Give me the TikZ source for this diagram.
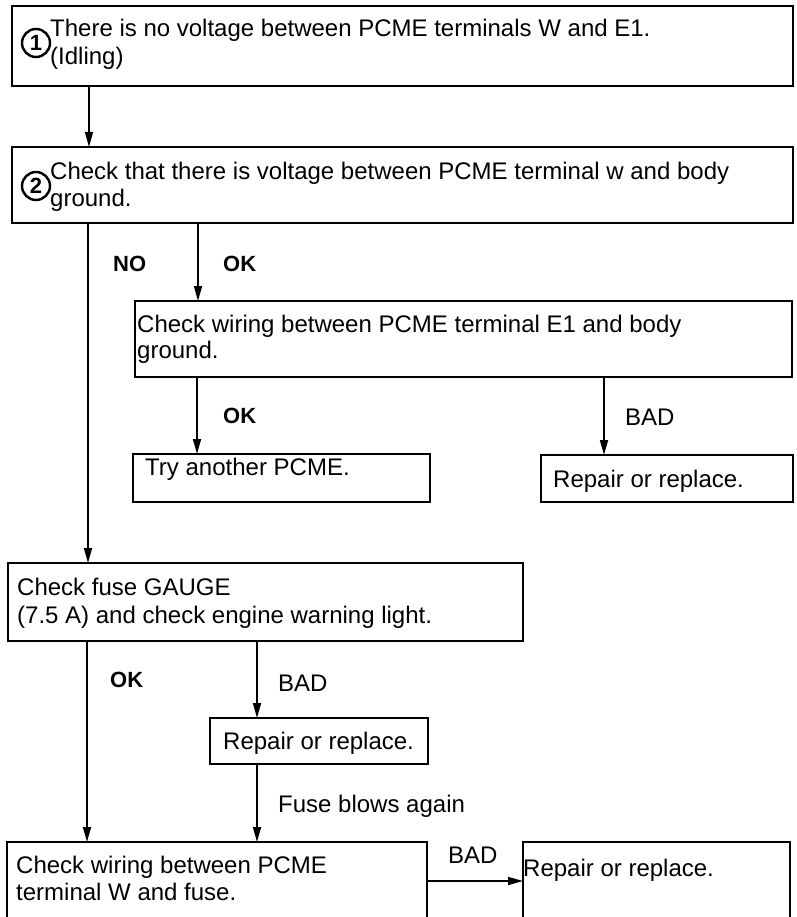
\documentclass[tikz,border=0pt]{standalone}
\usepackage{fontspec}
\setmainfont{Liberation Sans}
\usetikzlibrary{arrows.meta}
\begin{document}
\begin{tikzpicture}[x=1pt,y=-1pt,
  box/.style={draw, line width=2.5pt, inner sep=0pt, outer sep=0pt, anchor=north west},
  txt/.style={anchor=base west, inner sep=0pt, font=\fontsize{24}{28}\selectfont},
  lbl/.style={anchor=base west, inner sep=0pt, font=\fontsize{22}{26}\selectfont\bfseries},
  arr/.style={line width=1.7pt, -{Triangle[length=15pt,width=8pt]}},
  num/.style={circle, draw, line width=2.4pt, minimum size=28pt, inner sep=0pt,
    font=\fontsize{22}{22}\selectfont\bfseries}]
\useasboundingbox (0,0) rectangle (796,917);
\clip (0,0) rectangle (796,917);
\fill[white] (0,0) rectangle (796,917);

% column coordinates
\coordinate (c1) at (89,0);
\coordinate (cNO) at (88,0);
\coordinate (cOK) at (198,0);
\coordinate (cOK2) at (197,0);
\coordinate (cBAD) at (604,0);
\coordinate (cL) at (87,0);
\coordinate (cR) at (257,0);
\coordinate (cy) at (0,881);

% boxes
\node[box, minimum width=781pt, minimum height=80pt] (b1) at (12,6) {};
\node[box, minimum width=781pt, minimum height=76pt] (b2) at (12,147) {};
\node[box, minimum width=657pt, minimum height=76pt] (b3) at (135,301) {};
\node[box, minimum width=297pt, minimum height=48pt] (b4) at (133,454) {};
\node[box, minimum width=252pt, minimum height=47pt] (b5) at (541,455) {};
\node[box, minimum width=515pt, minimum height=78pt] (b6) at (8,563) {};
\node[box, minimum width=218pt, minimum height=46pt] (b7) at (210,718) {};
\node[box, minimum width=420pt, minimum height=98pt] (b8) at (7,842) {};
\node[box, minimum width=267pt, minimum height=98pt] (b9) at (523,842) {};

% circled numbers
\node[num] (n1) at (36,43) {1};
\node[num] (n2) at (36,186) {2};

% texts
\node[txt] (t1a) at (50,37) {There is no voltage between PCME terminals W and E1.};
\node[txt] (t1b) at (50,65) {(Idling)};
\node[txt] (t2a) at (50,180) {Check that there is voltage between PCME terminal w and body};
\node[txt] (t2b) at (50,207) {ground.};
\node[txt] (t3a) at (137,332) {Check wiring between PCME terminal E1 and body};
\node[txt] (t3b) at (137,358) {ground.};
\node[txt] (t4) at (145,475) {Try another PCME.};
\node[txt] (t5) at (553,487) {Repair or replace.};
\node[txt] (t6a) at (17,595) {Check fuse GAUGE};
\node[txt] (t6b) at (17,623) {(7.5 A) and check engine warning light.};
\node[txt] (t7) at (223,749) {Repair or replace.};
\node[txt] (t8a) at (16,873) {Check wiring between PCME};
\node[txt] (t8b) at (16,900) {terminal W and fuse.};
\node[txt] (t9) at (523,876) {Repair or replace.};

% labels
\node[lbl] (lNO) at (113,271) {NO};
\node[lbl] (lOK1) at (223,271) {OK};
\node[lbl] (lOK2) at (223,423) {OK};
\node[txt] (lBAD1) at (625,425) {BAD};
\node[lbl] (lOK3) at (110,687) {OK};
\node[txt] (lBAD2) at (278,691) {BAD};
\node[txt] (lFuse) at (278,812) {Fuse blows again};
\node[txt] (lBAD3) at (448,863) {BAD};

% connectors
\draw[arr] (b1.south -| c1) -- (b2.north -| c1);
\draw[arr] (b2.south -| cNO) -- (b6.north -| cNO);
\draw[arr] (b2.south -| cOK) -- (b3.north -| cOK);
\draw[arr] (b3.south -| cOK2) -- (b4.north -| cOK2);
\draw[arr] (b3.south -| cBAD) -- (b5.north -| cBAD);
\draw[arr] (b6.south -| cL) -- (b8.north -| cL);
\draw[arr] (b6.south -| cR) -- (b7.north -| cR);
\draw[arr] (b7.south -| cR) -- (b8.north -| cR);
\draw[arr] (b8.east |- cy) -- (b9.west |- cy);
\end{tikzpicture}
\end{document}
